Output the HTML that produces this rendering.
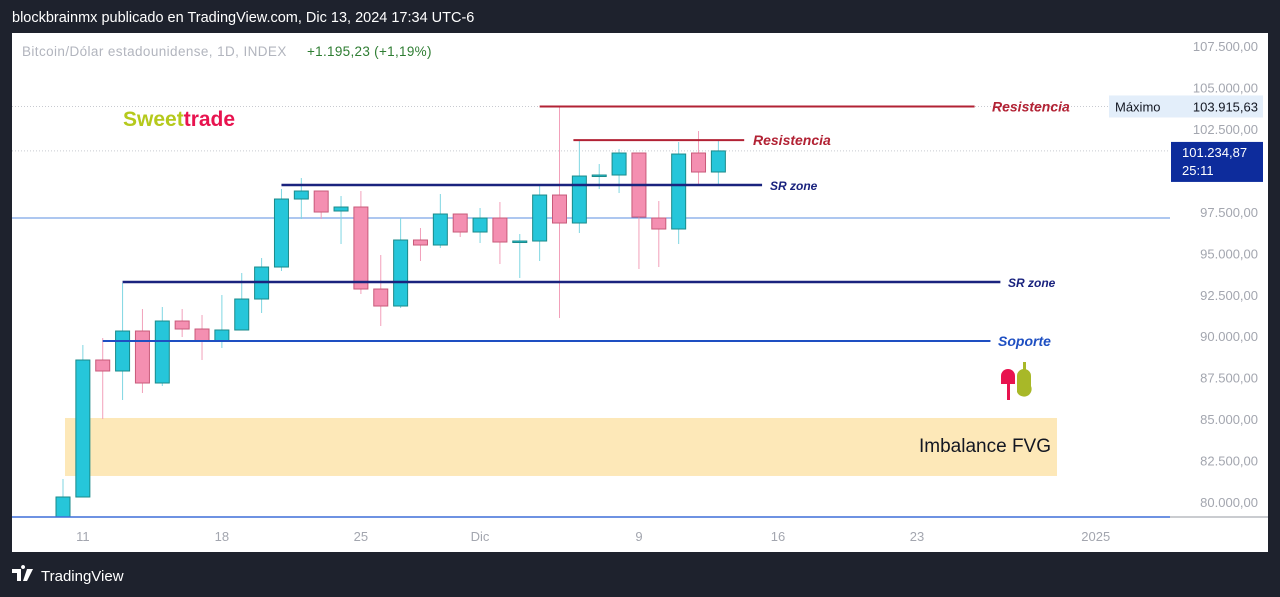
<!DOCTYPE html>
<html><head><meta charset="utf-8"><style>
html,body{margin:0;padding:0;background:#1e222d;width:1280px;height:597px;overflow:hidden}
svg{display:block;font-family:"Liberation Sans",sans-serif}
</style></head><body>
<svg id="chart" width="1280" height="597" viewBox="0 0 1280 597">
<rect x="0" y="0" width="1280" height="597" fill="#1e222d"/>
<text x="12" y="22" fill="#ffffff" font-size="14.5">blockbrainmx publicado en TradingView.com, Dic 13, 2024 17:34 UTC-6</text>
<rect x="12" y="33" width="1256" height="519" fill="#ffffff"/>
<g id="marks"></g>
<text x="22" y="56" fill="#b2b5be" font-size="13.5" letter-spacing="0.4">Bitcoin/Dólar estadounidense, 1D, INDEX</text>
<text x="307" y="56" fill="#2e7d32" font-size="13.5" letter-spacing="0.3">+1.195,23 (+1,19%)</text>
<text x="123" y="126" font-size="21" font-weight="bold"><tspan fill="#b5c91c">Sweet</tspan><tspan fill="#e8134f">trade</tspan></text>
<g>
<rect x="1007" y="384" width="3" height="16" fill="#e8134f"/>
<path d="M1001 384 v-8 a7 7 0 0 1 14 0 v8 z" fill="#e8134f"/>
<rect x="1023" y="362" width="3" height="10" fill="#a8b828"/>
<path d="M1017 392 v-16 a7 7 0 0 1 14 0 v10 a7 7 0 0 1 -14 6 z" fill="#a8b828"/>
</g>
<g>
<path d="M12 569 h9 v12 h-4 v-8 h-5 z M23 569 a2 2 0 1 1 0.1 0 z M27 569 h6 l-6 12 h-4 z" fill="#ffffff"/>
<text x="41" y="581" fill="#ffffff" font-size="15">TradingView</text>
</g>
</svg>
<script>
const dates=["10","11","12","13","14","15","16","17","18","19","20","21","22","23","24","25","26","27","28","29","30","1","2","3","4","5","6","7","8","9","10","11","12","13"];
const opens=[79095,80362,88624,87961,90373,87237,90976,90494,89770,90434,92303,94233,98334,98817,97611,97852,92906,91881,95862,95560,97430,96344,97188,95741,95801,98575,96887,99721,99782,101109,97188,96525,101109,99963];
const highs=[81447,89529,89951,93268,91700,91821,91700,91338,92544,93871,94776,98937,99601,98817,98515,98817,94957,97188,96585,98636,97430,97791,98153,96223,99118,103915.63,101832,100445,101350,101109,98214,101772,102435,101832];
const lows=[78914,80362,85066,86212,86634,87056,90011,88624,89348,90434,91459,93992,97128,97128,95620,92605,90675,91760,94595,95379,96042,95681,94414,93570,94595,91157,96284,98937,98696,94113,94233,95620,99239,99179];
const closes=[80362,88624,87961,90373,87237,90976,90494,89770,90434,92303,94233,98334,98817,97550,97852,92906,91881,95862,95560,97430,96344,97188,95741,95801,98575,96887,99721,99782,101109,97249,96525,101048,99963,101234.87];
const priceTicks=[107500,105000,102500,97500,95000,92500,90000,87500,85000,82500,80000];
const priceTickLabels=["107.500,00","105.000,00","102.500,00","97.500,00","95.000,00","92.500,00","90.000,00","87.500,00","85.000,00","82.500,00","80.000,00"];
const timeTickIdx=[1,8,15,21,29,36,43,52];
const timeTickLabels=["11","18","25","Dic","9","16","23","2025"];
const lastPrice=101234.87, maxPrice=103915.63, blueLevel=97190;

const NS="http://www.w3.org/2000/svg";
const y=p=>503-(p-80000)/2500*41.45;
const x=i=>63+i*19.86;
const g=document.getElementById('marks');
function mk(tag,attrs,parent){const e=document.createElementNS(NS,tag);for(const k in attrs)e.setAttribute(k,attrs[k]);(parent||g).appendChild(e);return e;}

const defs=mk('defs',{});
const cp=mk('clipPath',{id:'plotclip'},defs);
mk('rect',{x:12,y:33,width:1158,height:484},cp);
const plot=mk('g',{'clip-path':'url(#plotclip)'});



let l=mk('line',{x1:12,x2:1170,y1:y(maxPrice),y2:y(maxPrice),stroke:'#c8cad0','stroke-dasharray':'1 2'},plot);


l=mk('line',{x1:12,x2:1170,y1:y(lastPrice),y2:y(lastPrice),stroke:'#c8cad0','stroke-dasharray':'1 2'},plot);



let r=mk('rect',{x:65,y:y(85127),width:992,height:y(81630)-y(85127),fill:'#fde8b8'},plot);


let t=mk('text',{x:1051,y:452,'text-anchor':'end','font-size':19,fill:'#131722'},plot);
t.textContent='Imbalance FVG';



l=mk('line',{x1:12,x2:1170,y1:y(blueLevel),y2:y(blueLevel),stroke:'#5b8fe0','stroke-width':1},plot);



for(let i=0;i<dates.length;i++){
  const up=closes[i]>=opens[i];
  const cx=x(i);
  const cg=mk('g',{},plot);
  
  
  mk('line',{x1:cx,x2:cx,y1:y(highs[i]),y2:y(lows[i]),stroke:up?'#7fd6e2':'#f2a0ba','stroke-width':1},cg);
  const top=y(Math.max(opens[i],closes[i])), bot=y(Math.min(opens[i],closes[i]));
  mk('rect',{x:cx-7,y:top,width:14,height:Math.max(1.5,bot-top),fill:up?'#26c6da':'#f48fb1',stroke:up?'#1b8a8a':'#c85a7a','stroke-width':1},cg);
}

function level(name,price,i1,i2,color,w,label,lx,fs,weight){
  const lg=mk('g',{},plot);
  
  
  mk('line',{x1:x(i1),x2:x(i2),y1:y(price),y2:y(price),stroke:color,'stroke-width':w},lg);
  const tt=mk('text',{x:lx,y:y(price)+5,fill:color,'font-size':fs,'font-style':'italic','font-weight':weight},lg);
  tt.textContent=label;
}
level('resistance-line-1',maxPrice,24,45.9,'#b22234',2,'Resistencia',992,14,'bold');
level('resistance-line-2',101890,25.7,34.3,'#b22234',2,'Resistencia',753,14,'bold');
level('sr-zone-line-1',99180,11,35.2,'#1a237e',2.5,'SR zone',770,12,'bold');
level('sr-zone-line-2',93330,3,47.2,'#1a237e',2.5,'SR zone',1008,12,'bold');
level('support-line',89770,2,46.7,'#1e4fc2',2,'Soporte',998,14,'bold');

l=mk('line',{x1:12,x2:1170,y1:517,y2:517,stroke:'#3f6fd8','stroke-width':1.5});


l=mk('line',{x1:1170,x2:1268,y1:517,y2:517,stroke:'#9598a1','stroke-width':1});



for(let k=0;k<priceTicks.length;k++){
  const tx=mk('text',{x:1258,y:y(priceTicks[k])+4,'text-anchor':'end','font-size':13,fill:'#a3a6af'});
  tx.textContent=priceTickLabels[k];
  
  
}
r=mk('rect',{x:1109,y:y(maxPrice)-11,width:62,height:22,fill:'#e3eefa'});


t=mk('text',{x:1115,y:y(maxPrice)+5,'font-size':13,fill:'#131722'});
t.textContent='Máximo';


r=mk('rect',{x:1171,y:y(maxPrice)-11,width:92,height:22,fill:'#e3eefa'});


t=mk('text',{x:1258,y:y(maxPrice)+5,'text-anchor':'end','font-size':13,fill:'#131722'});
t.textContent='103.915,63';


r=mk('rect',{x:1171,y:y(lastPrice)-9,width:92,height:40,fill:'#0d2c9c'});


t=mk('text',{x:1182,y:y(lastPrice)+6,'font-size':13,fill:'#ffffff'});
t.textContent='101.234,87';


t=mk('text',{x:1182,y:y(lastPrice)+24,'font-size':13,fill:'#ffffff'});
t.textContent='25:11';



for(let k=0;k<timeTickIdx.length;k++){
  const tx=mk('text',{x:x(timeTickIdx[k]),y:541,'text-anchor':'middle','font-size':13,fill:'#a3a6af'});
  tx.textContent=timeTickLabels[k];
  
  
}
</script>
</body></html>
